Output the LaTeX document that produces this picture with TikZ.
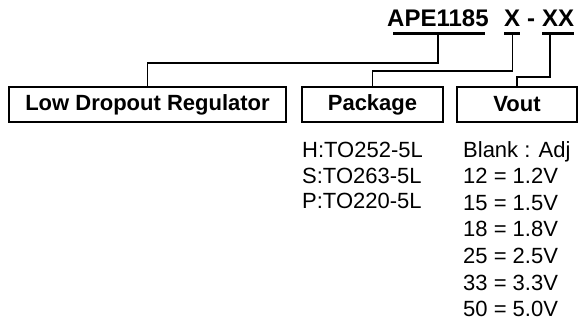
\documentclass[tikz,border=0pt]{standalone}
\usepackage{fontspec}
\setmainfont{Liberation Sans}
\usetikzlibrary{calc,positioning}

\begin{document}
\begin{tikzpicture}[
    x=1pt,
    y=-1pt,
    font=\fontsize{22}{26}\selectfont,
    field/.style={draw, line width=1.4pt, minimum height=35pt, inner sep=0pt, font=\fontsize{22}{26}\selectfont\bfseries},
    part/.style={inner sep=0pt, anchor=base west, font=\fontsize{24}{26}\selectfont\bfseries},
    uline/.style={line width=3pt},
    wire/.style={line width=1.4pt},
    codes/.style={inner sep=0pt, anchor=north west, align=left}
  ]
    \useasboundingbox (0,0) rectangle (579,322);

    \node[part] (ape) at (387,26) {APE1185};
    \node[part] (sel) at (504,26) {X};
    \node[part] (dash) at (527,26) {-};
    \node[part] (volt) at (542,26) {XX};

    \node[field, minimum width=277pt] (ldo) at (147.5,104.5) {Low Dropout Regulator};
    \node[field, minimum width=141pt] (pkg) at (372.5,104.5) {Package};
    \node[field, minimum width=120pt] (vout) at (517,104.5) {Vout};

    \node[codes, font=\fontsize{22}{25.5}\selectfont] (pkglist) at (302,142) {H:TO252-5L\\S:TO263-5L\\P:TO220-5L};
    \node[codes, font=\fontsize{22}{26.6}\selectfont] (voutlist) at (463,141) {Blank : Adj\\12 = 1.2V\\15 = 1.5V\\18 = 1.8V\\25 = 2.5V\\33 = 3.3V\\50 = 5.0V};

    \coordinate (apeTap) at ($(ape.base)+(0,7)$);
    \coordinate (selTap) at ($(sel.base)+(0,7)$);
    \coordinate (voltTap) at ($(volt.base west)+(8,7)$);

    \draw[uline] ($(ape.base west)+(6,7)$) -- ($(ape.base east)+(-4,7)$);
    \draw[uline] ($(sel.base west)+(0,7)$) -- ($(sel.base east)+(0,7)$);
    \draw[uline] ($(volt.base west)+(0,7)$) -- ($(volt.base east)+(0,7)$);

    \draw[wire] (apeTap) -- ++(0,30) -| (ldo.north);
    \draw[wire] (selTap) -- ++(0,38) -| (pkg.north);
    \draw[wire] (voltTap) -- ++(0,44) -| (vout.north);
  \end{tikzpicture}
\end{document}
